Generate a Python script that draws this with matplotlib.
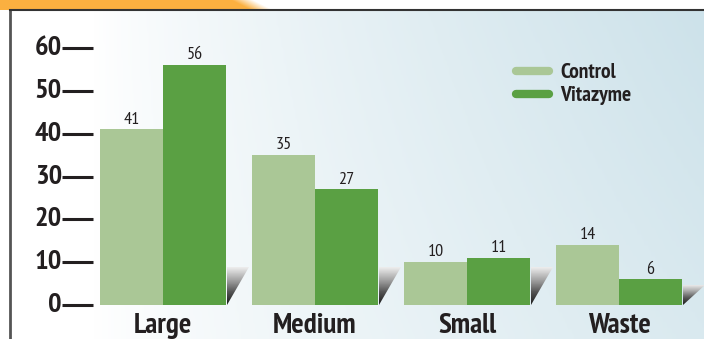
import numpy as np
import matplotlib
matplotlib.use("Agg")
import matplotlib.pyplot as plt
from matplotlib.patches import Polygon
from matplotlib.lines import Line2D
from matplotlib.colors import LinearSegmentedColormap

plt.rcParams['font.family'] = ['PT Sans Narrow', 'Roboto Condensed', 'Fira Sans Condensed',
                               'Archivo Narrow', 'Liberation Sans Narrow', 'DejaVu Sans']

# data
categories = ["Large", "Medium", "Small", "Waste"]
control = [41, 35, 10, 14]
vitazyme = [56, 27, 11, 6]
series_names = ["Control", "Vitazyme"]
yticks = [0, 10, 20, 30, 40, 50, 60]

C_CONTROL = "#aac796"
C_VITA = "#5aa043"

W, H = 704, 339
fig = plt.figure(figsize=(W / 100, H / 100), dpi=100)

# orange banner strip at top left
bax = fig.add_axes([0, 1 - 10 / H, 1, 10 / H])
bax.set_axis_off()
bx = np.linspace(0, W, 704)
by = np.linspace(0, 10, 10)
X, Y = np.meshgrid(bx, by)
edge = 232 + (Y / 10) * 18
t = np.clip((X - edge) / 22, 0, 1)
orange = np.array([251, 176, 64]) / 255
img = orange[None, None, :] * (1 - t[..., None]) + t[..., None]
bax.imshow(img, extent=[0, W, 0, 10], aspect="auto", origin="upper")
bax.set_xlim(0, W)
bax.set_ylim(0, 10)

# main axes
PX = 4.283  # px per unit
ax = fig.add_axes([10 / W, 0, (W - 10) / W, (H - 10) / H])
ax.set_ylim(-(H - 305) / PX, (305 - 10) / PX)
ax.set_xlim((10 - 163) / 152, (W - 163) / 152)

# background gradient
gx = np.linspace(0, 1, 300)
gy = np.linspace(0, 1, 60)
GX, GY = np.meshgrid(gx, gy)
g = np.clip((GX - 0.12) / 0.88, 0, 1) ** 0.8 * (0.75 + 0.25 * GY)
bg_cmap = LinearSegmentedColormap.from_list("bg", ["#ffffff", "#cde2ea"])
ax.imshow(g, extent=[0, 1, 0, 1], transform=ax.transAxes, cmap=bg_cmap,
          vmin=0, vmax=1, aspect="auto", origin="lower", zorder=0)

x = np.arange(len(categories))
w = 63 / 152
ax.bar(x - w / 2, control, w, color=C_CONTROL, zorder=3)
ax.bar(x + w / 2, vitazyme, w, color=C_VITA, zorder=3)

# shadows behind right side of each group
shadow_h = [8.9, 8.9, 8.9, 4.7]
shadow_w = 22 / 152
sh_cmap = LinearSegmentedColormap.from_list(
    "sh", ["#1c1c1c", "#555555", "#a8a8a8", "#f2f2f2"])
for i in range(len(categories)):
    x0 = x[i] + w + 1 / 152
    h = shadow_h[i]
    poly = Polygon([(x0, 0), (x0, h), (x0 + shadow_w, h)], closed=True,
                   facecolor="none", edgecolor="none")
    ax.add_patch(poly)
    sy = np.linspace(0, 1, 50)[:, None] * np.ones((1, 20))
    im = ax.imshow(sy, extent=[x0, x0 + shadow_w, 0, h], cmap=sh_cmap,
                   origin="lower", aspect="auto", zorder=2)
    im.set_clip_path(poly)

# value labels
for i in range(len(categories)):
    ax.text(x[i] - w / 2, control[i] + 0.4, str(control[i]), ha="center",
            va="bottom", fontsize=13, color="#231f20", zorder=4)
    ax.text(x[i] + w / 2, vitazyme[i] + 0.4, str(vitazyme[i]), ha="center",
            va="bottom", fontsize=13, color="#231f20", zorder=4)

# category labels
for i, c in enumerate(categories):
    ax.text(x[i], -4.9, c, ha="center", va="center", fontsize=21,
            fontweight="bold", color="#231f20", zorder=4)

# y ticks as text + dashes
ytr = ax.get_yaxis_transform()
for v in yticks:
    ax.text(52 / 694, v, str(v), transform=ytr, ha="right", va="center",
            fontsize=20.5, fontweight="bold", color="#231f20", zorder=4)
ax.hlines(yticks, 52 / 694, 83 / 694, transform=ytr, colors="#231f20",
          linewidth=2.2, zorder=4)

ax.set_xticks([])
ax.set_yticks([])
for s in ["right", "bottom"]:
    ax.spines[s].set_visible(False)
ax.spines["left"].set_color("#555555")
ax.spines["left"].set_linewidth(2)
ax.spines["top"].set_color("#333333")
ax.spines["top"].set_linewidth(1.5)

handles = [Line2D([], [], color=C_CONTROL, lw=6, solid_capstyle="round"),
           Line2D([], [], color=C_VITA, lw=6, solid_capstyle="round")]
leg = ax.legend(handles, series_names, loc="upper left",
                bbox_to_anchor=(516 / W, 1 - 63 / H),
                bbox_transform=fig.transFigure, frameon=False,
                borderpad=0, borderaxespad=0, handlelength=1.55,
                handletextpad=0.5, labelspacing=0.2,
                prop={"size": 15.5, "weight": "bold"})
for t_ in leg.get_texts():
    t_.set_color("#231f20")

fig.savefig("out.png", dpi=100)
